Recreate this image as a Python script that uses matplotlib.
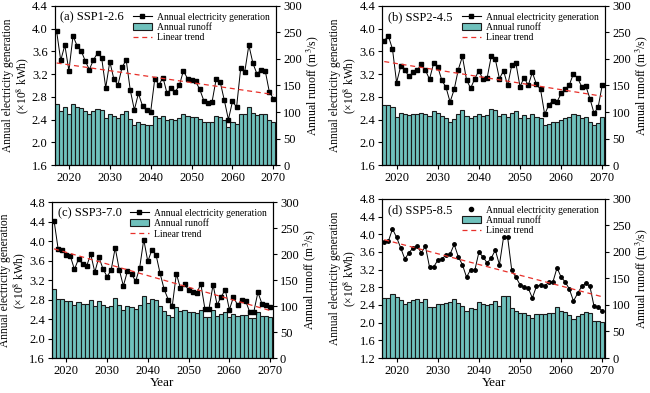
import matplotlib.pyplot as plt
import numpy as np
from matplotlib.lines import Line2D
from matplotlib.patches import Patch

plt.rcParams['font.family'] = ['Liberation Serif', 'DejaVu Serif']
plt.rcParams['mathtext.fontset'] = 'stix'

years = np.arange(2017, 2071)

# annual electricity generation (x10^8 kWh)
elec_a = [3.95, 3.44, 3.71, 3.26, 3.87, 3.70, 3.61, 3.43, 3.28, 3.45,
          3.57, 3.49, 2.96, 3.42, 3.11, 3.01, 3.32, 3.45, 2.92, 2.57,
          2.86, 2.64, 2.56, 2.54, 3.12, 3.01, 3.14, 2.86, 2.95, 2.89,
          3.00, 3.26, 3.12, 3.09, 3.07, 2.93, 2.73, 2.70, 2.71, 3.11,
          3.06, 2.74, 2.40, 2.72, 2.62, 3.30, 3.24, 3.71, 3.39, 3.20,
          3.28, 3.26, 2.89, 2.77]
elec_b = [3.79, 3.87, 3.64, 3.05, 3.34, 3.27, 3.16, 3.23, 3.27, 3.37,
          3.27, 3.11, 3.39, 3.33, 3.09, 2.97, 2.71, 2.93, 3.28, 3.51,
          3.10, 2.95, 3.12, 3.26, 3.11, 3.13, 3.51, 3.46, 3.12, 3.26,
          3.00, 3.36, 3.39, 2.98, 3.14, 3.00, 3.23, 3.02, 2.93, 2.49,
          2.66, 2.73, 2.71, 2.86, 2.93, 3.01, 3.21, 3.13, 2.98, 2.99,
          2.77, 2.51, 2.62, 3.01]
elec_c = [4.42, 3.84, 3.81, 3.72, 3.69, 3.42, 3.63, 3.53, 3.49, 3.73,
          3.36, 3.67, 3.43, 3.27, 3.40, 3.86, 3.41, 3.08, 3.38, 3.33,
          3.17, 3.45, 4.03, 3.58, 3.82, 3.72, 3.34, 3.01, 2.80, 2.67,
          3.33, 3.03, 3.11, 3.00, 2.95, 2.93, 3.12, 2.61, 2.61, 3.10,
          2.69, 2.86, 3.00, 2.59, 2.85, 2.69, 2.78, 2.77, 2.54, 2.55,
          2.95, 2.71, 2.69, 2.65]
elec_d = [3.83, 3.84, 4.12, 3.93, 3.69, 3.44, 3.58, 3.69, 3.73, 3.58,
          3.73, 3.26, 3.26, 3.41, 3.44, 3.53, 3.55, 3.77, 3.49, 3.31,
          3.03, 3.20, 3.18, 3.59, 3.49, 3.35, 3.46, 3.64, 3.31, 3.93,
          3.93, 3.18, 3.03, 2.86, 2.81, 2.78, 2.56, 2.82, 2.85, 2.82,
          2.92, 2.92, 3.24, 3.03, 2.92, 2.76, 2.49, 2.66, 2.82, 2.89,
          2.82, 2.37, 2.35, 2.26]

# annual runoff (m3/s)
runoff_a = [116, 102, 110, 96, 115, 109, 108, 102, 97, 101,
            106, 104, 88, 97, 92, 88, 97, 102, 87, 75,
            82, 77, 75, 75, 92, 89, 92, 84, 87, 85,
            88, 96, 92, 91, 90, 87, 81, 81, 81, 92,
            90, 84, 72, 81, 77, 97, 96, 109, 99, 94,
            97, 96, 85, 82]
runoff_b = [113, 114, 109, 90, 99, 97, 94, 96, 97, 99,
            97, 92, 101, 99, 92, 89, 81, 87, 97, 104,
            92, 89, 92, 97, 92, 94, 106, 104, 92, 97,
            90, 99, 102, 89, 94, 89, 96, 90, 89, 75,
            77, 81, 81, 85, 89, 90, 96, 94, 89, 90,
            82, 75, 79, 90]
runoff_c = [133, 113, 113, 110, 110, 102, 107, 104, 104, 112,
            100, 110, 102, 98, 100, 115, 102, 92, 100, 98,
            94, 102, 119, 106, 113, 112, 100, 90, 83, 79,
            99, 90, 93, 89, 89, 87, 93, 78, 78, 93,
            81, 85, 89, 78, 85, 81, 83, 83, 76, 76,
            89, 81, 81, 79]
runoff_d = [113, 113, 121, 115, 110, 102, 106, 110, 111, 106,
            111, 96, 96, 101, 102, 104, 105, 111, 104, 98,
            89, 94, 93, 106, 102, 100, 102, 108, 98, 116,
            117, 94, 89, 85, 84, 81, 75, 83, 83, 83,
            85, 85, 96, 89, 87, 82, 74, 79, 83, 86,
            84, 70, 69, 67]

labels = ['(a) SSP1-2.6', '(b) SSP2-4.5', '(c) SSP3-7.0', '(d) SSP5-8.5']
elec_all = [elec_a, elec_b, elec_c, elec_d]
runoff_all = [runoff_a, runoff_b, runoff_c, runoff_d]
left_ticks = [np.arange(1.6, 4.41, 0.4), np.arange(1.6, 4.41, 0.4),
              np.arange(1.6, 4.81, 0.4), np.arange(1.2, 4.81, 0.4)]
positions = [[0.084, 0.580, 0.341, 0.405], [0.588, 0.580, 0.343, 0.405],
             [0.080, 0.089, 0.340, 0.397], [0.588, 0.089, 0.343, 0.405]]

bar_color = '#6fc1bc'

fig = plt.figure(figsize=(6.5, 3.93), dpi=100)

for k in range(4):
    ax = fig.add_axes(positions[k])
    ax2 = ax.twinx()
    ax.set_zorder(ax2.get_zorder() + 1)
    ax.patch.set_visible(False)

    ax2.bar(years, runoff_all[k], width=1.0, color=bar_color,
            edgecolor='#1a1a1a', linewidth=0.8)
    ax2.set_ylim(0, 300)
    ax2.set_yticks(np.arange(0, 301, 50))
    ax2.set_ylabel('Annual runoff (m$^3$/s)', fontsize=8.5, labelpad=2)

    elec = np.array(elec_all[k])
    marker = 'o' if k == 3 else 's'
    ax.plot(years, elec, color='black', linewidth=0.7, marker=marker,
            markersize=2.5)
    coef = np.polyfit(years, elec, 1)
    ax.plot(years, np.polyval(coef, years), color='#e8302a', linestyle='--',
            linewidth=0.9, dashes=(4, 3))

    ax.set_ylim(left_ticks[k][0], left_ticks[k][-1])
    ax.set_yticks(left_ticks[k])
    ax.set_yticklabels(['%.1f' % v for v in left_ticks[k]])
    ax.set_xlim(2016.5, 2070.7)
    ax.set_xticks([2020, 2030, 2040, 2050, 2060, 2070])
    ax.set_ylabel('Annual electricity generation\n(×10$^8$ kWh)', fontsize=8.3,
                  linespacing=1.0, labelpad=1)
    if k >= 2:
        ax.set_xlabel('Year', fontsize=9.5, labelpad=0)

    for a in (ax, ax2):
        a.tick_params(labelsize=9, length=3, width=0.8, pad=2)
    ax.text(0.025, 0.965, labels[k], transform=ax.transAxes, fontsize=9,
            va='top', ha='left')

    if k == 3:
        h1 = Line2D([], [], color='black', marker='o', linestyle='none',
                    markersize=3)
    else:
        h1 = Line2D([], [], color='black', marker='s', linewidth=0.8,
                    markersize=2.5)
    h2 = Patch(facecolor=bar_color, edgecolor='#1a1a1a', linewidth=0.8)
    h3 = Line2D([], [], color='#e8302a', linestyle='--', linewidth=0.9,
                dashes=(4, 3))
    ax.legend([h1, h2, h3], ['Annual electricity generation', 'Annual runoff',
                             'Linear trend'],
              loc='upper right', frameon=False, fontsize=6.9,
              handlelength=2.0, labelspacing=0.15, borderaxespad=0.3,
              handletextpad=0.5)

fig.savefig('out.png', dpi=100)
